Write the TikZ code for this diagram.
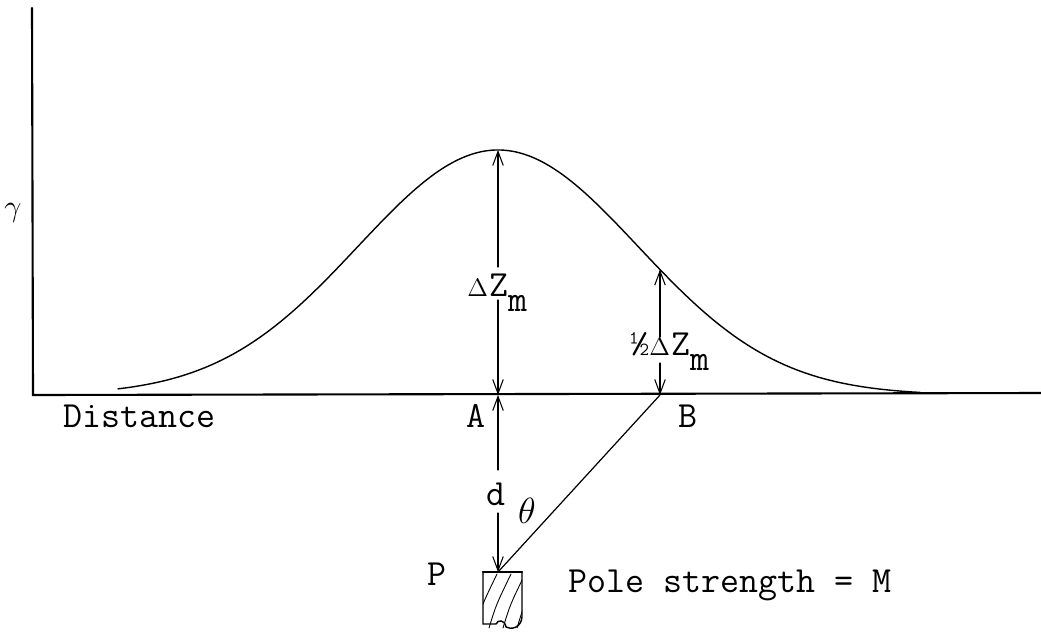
\documentclass[tikz,border=0pt]{standalone}
\usepackage{fontspec}
\usetikzlibrary{arrows.meta}
\newcommand{\smalldelta}{{\fontsize{15}{15}\selectfont$\Delta$}}

\begin{document}
\begin{tikzpicture}[x=0.02cm,y=-0.02cm,line cap=round,
  tip/.style={-{Straight Barb[length=8pt,width=6pt]},line width=0.6pt},
  lbl/.style={inner sep=0pt,font=\ttfamily\fontsize{21}{23}\selectfont},
  gausscurve/.style={line width=0.8pt}]
  \def\H{245}
  \def\S{140}
  \useasboundingbox (0,0) rectangle (1041,633);

%axes:
  \coordinate (O) at (33,395);
  \coordinate (ytop) at (32,8);
  \coordinate (xend) at (1041,393);
  \draw[line width=1.2pt] (ytop) -- (O) -- (xend);
  \node[lbl,font=\fontsize{17}{19}\selectfont] (gam) at (13,213) {$\gamma$};
  \node[lbl,anchor=base west] (dist) at (63,427) {Distance};

%anomaly curve:
  \draw[gausscurve] plot[domain=118:920,samples=120,smooth]
    (\x,{395-\H*exp(-0.5*((\x-498)/\S)^2)});

  \coordinate (A) at (498,395);
  \coordinate (peak) at (498,150);
  \coordinate (B) at (660,395);
  \coordinate (Bc) at (660,{395-\H*exp(-0.5*(162/\S)^2)});
  \coordinate (P) at (498,572);

%%%%%% Delta Z_m
  \node[lbl,anchor=base west] (dz) at (467,296) {\smalldelta\kern1ptZ\raisebox{-9pt}{m}};
  \coordinate (dzt) at (498,267);
  \coordinate (dzb) at (498,300);
  \draw[tip] (dzt) -- (peak);
  \draw[tip] (dzb) -- (A);

%%%%%% half Delta Z_m
  \node[lbl,anchor=base west] (hz) at (630,355) {\textonehalf\smalldelta\kern1ptZ\raisebox{-9pt}{m}};
  \coordinate (hzt) at (660,337);
  \coordinate (hzb) at (660,363);
  \draw[tip] (hzt) -- (Bc);
  \draw[tip] (hzb) -- (B);

  \node[lbl] (lA) at (476,416) {A};
  \node[lbl] (lB) at (688,416) {B};

%%%%%% depth d
  \node[lbl] (dl) at (496,494) {d};
  \coordinate (dt) at (498,470);
  \coordinate (db) at (498,513);
  \draw[tip] (dt) -- (A);
  \draw[tip] (db) -- (P);
  \draw[line width=0.7pt] (B) -- (P);
  \node[lbl] (th) at (527,511) {$\theta$};

%pole:
  \begin{scope}
    \clip (483,572) rectangle (522,628);
    \foreach \s in {-22,-8,6,20,34}
      \draw[line width=0.5pt] (483+\s,628) .. controls (490+\s,605) .. (505+\s,574);
  \end{scope}
  \draw[line width=0.8pt] (483,624) -- (483,572) -- (522,572) -- (522,617)
    .. controls (521,628) and (511,630) .. (506,627)
    .. controls (505,620) and (498,619) .. (496,624) -- cycle;
  \draw[line width=1.4pt] (483,572) -- (522,572);
  \node[lbl] (lP) at (437,574) {P};
  \node[lbl,anchor=base west] (pole) at (568,592) {Pole strength = M};

\end{tikzpicture}
\end{document}
